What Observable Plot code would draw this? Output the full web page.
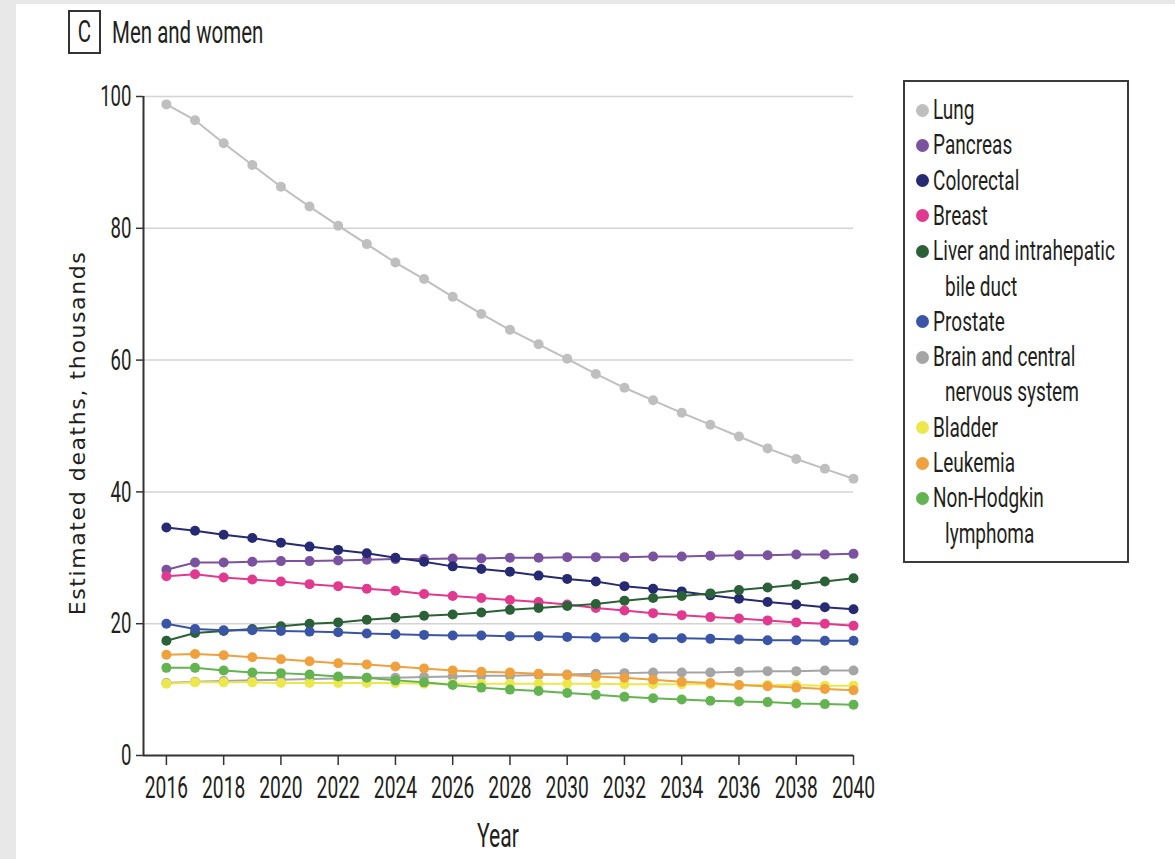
<!DOCTYPE html>
<html><head><meta charset="utf-8">
<script src="https://cdn.jsdelivr.net/npm/d3@7"></script>
<script src="https://cdn.jsdelivr.net/npm/@observablehq/plot@0.6"></script>
<style>
html,body{margin:0;padding:0;width:1175px;height:859px;overflow:hidden;background:#e8e8e8;}
#page{position:absolute;left:16px;top:4px;width:1159px;height:855px;background:#fff;}
#chart{position:absolute;left:0;top:0;}
.narrow{font-family:"Roboto",sans-serif;color:#231f20;}
#cbox{position:absolute;left:68px;top:10px;width:29px;height:40px;border:2px solid #333;}
#cbox span{position:absolute;left:0;width:29px;top:4px;font-size:31px;line-height:31px;text-align:center;transform:scaleX(0.66);}
#title{position:absolute;left:112px;top:16px;font-size:32px;line-height:32px;white-space:nowrap;transform:scaleX(0.64);transform-origin:0 50%;}
#ylab{position:absolute;left:77px;top:433px;transform:translate(-50%,-50%) rotate(-90deg);font-family:"DejaVu Sans",sans-serif;font-size:22px;letter-spacing:1.6px;color:#231f20;white-space:nowrap;}
#xlab{position:absolute;left:498px;top:818px;font-size:34px;line-height:34px;white-space:nowrap;transform:translateX(-50%) scaleX(0.62);}
#legend{position:absolute;left:903px;top:80px;width:222px;height:479px;border:2px solid #3a3a3a;}
.dot{position:absolute;left:11px;width:13px;height:13px;border-radius:50%;}
.ltxt{position:absolute;font-size:28px;line-height:28px;white-space:nowrap;transform:scaleX(0.68);transform-origin:0 50%;}
</style></head>
<body>
<div id="page"></div>
<div id="chart"></div>
<div id="cbox" class="narrow"><span>C</span></div>
<div id="title" class="narrow">Men and women</div>
<div id="ylab">Estimated deaths, thousands</div>
<div id="xlab" class="narrow">Year</div>
<div id="legend" class="narrow"></div>
<script>
const years = [2016,2017,2018,2019,2020,2021,2022,2023,2024,2025,2026,2027,2028,2029,2030,2031,2032,2033,2034,2035,2036,2037,2038,2039,2040];
const cancers = ["Lung","Pancreas","Colorectal","Breast","Liver and intrahepatic bile duct","Prostate","Brain and central nervous system","Bladder","Leukemia","Non-Hodgkin lymphoma"];
const legendLines = [["Lung"],["Pancreas"],["Colorectal"],["Breast"],["Liver and intrahepatic","bile duct"],["Prostate"],["Brain and central","nervous system"],["Bladder"],["Leukemia"],["Non-Hodgkin","lymphoma"]];
const colors = ["#bfbfbf","#7b52a0","#252a72","#e0398f","#2b6136","#3b55a6","#a5a5a5","#ece84c","#eea13d","#63b450"];

const lung       = [98.8,96.4,92.9,89.6,86.3,83.3,80.4,77.6,74.8,72.3,69.6,67.0,64.6,62.4,60.2,57.9,55.8,53.9,52.0,50.2,48.4,46.6,45.0,43.5,42.0];
const pancreas   = [28.2,29.3,29.3,29.4,29.5,29.5,29.6,29.7,29.8,29.8,29.9,29.9,30.0,30.0,30.1,30.1,30.1,30.2,30.2,30.3,30.4,30.4,30.5,30.5,30.6];
const colorectal = [34.6,34.1,33.5,33.0,32.3,31.7,31.2,30.7,30.0,29.4,28.7,28.3,27.9,27.3,26.8,26.4,25.7,25.3,24.9,24.3,23.8,23.3,22.9,22.5,22.2];
const breast     = [27.2,27.5,27.0,26.7,26.4,26.0,25.7,25.3,25.0,24.5,24.2,23.9,23.6,23.3,22.9,22.4,22.0,21.6,21.3,21.0,20.8,20.5,20.2,20.0,19.7];
const liver      = [17.4,18.6,18.9,19.2,19.6,20.0,20.2,20.6,20.9,21.2,21.4,21.7,22.1,22.4,22.7,23.0,23.5,23.9,24.2,24.6,25.1,25.5,25.9,26.4,26.9];
const prostate   = [20.0,19.2,19.0,19.0,18.9,18.8,18.7,18.5,18.4,18.3,18.2,18.2,18.1,18.1,18.0,17.9,17.9,17.8,17.8,17.7,17.6,17.5,17.5,17.4,17.4];
const brain      = [11.0,11.2,11.3,11.4,11.5,11.6,11.7,11.8,11.8,11.9,12.0,12.1,12.1,12.2,12.3,12.4,12.5,12.6,12.6,12.6,12.7,12.8,12.8,12.9,12.9];
const bladder    = [10.9,11.1,11.1,11.1,11.0,11.0,11.0,11.0,11.0,10.9,10.9,10.9,10.9,10.9,10.9,10.9,10.8,10.8,10.8,10.8,10.7,10.7,10.7,10.6,10.6];
const leukemia   = [15.3,15.4,15.2,14.9,14.6,14.3,14.0,13.8,13.5,13.2,12.9,12.7,12.6,12.4,12.2,12.0,11.8,11.5,11.2,11.0,10.7,10.5,10.3,10.1,9.9];
const nhl        = [13.3,13.3,12.9,12.6,12.5,12.3,12.0,11.8,11.4,11.1,10.7,10.3,10.0,9.8,9.5,9.2,8.9,8.7,8.5,8.3,8.2,8.1,7.9,7.8,7.7];

const series = [lung,pancreas,colorectal,breast,liver,prostate,brain,bladder,leukemia,nhl];
const xTicks = [2016,2018,2020,2022,2024,2026,2028,2030,2032,2034,2036,2038,2040];
const yTicks = [0,20,40,60,80,100];

const data = [];
series.forEach((vals, i) => vals.forEach((v, j) => data.push({cancer: cancers[i], year: years[j], value: v})));

const chart = Plot.plot({
  width: 900, height: 859,
  marginLeft: 143, marginRight: 47, marginTop: 96, marginBottom: 104,
  style: {fontFamily: "Roboto, sans-serif", color: "#231f20", background: "transparent", overflow: "visible"},
  x: {domain: [2015.2, 2040]},
  y: {domain: [0, 100]},
  color: {domain: cancers, range: colors},
  marks: [
    Plot.gridY(yTicks.filter(d => d > 0), {stroke: "#d4d4d4", strokeOpacity: 1, strokeWidth: 1.5}),
    Plot.axisX(xTicks, {tickSize: 10, tickPadding: 10, fontSize: 31, tickFormat: d => String(d), label: null, stroke: "#333", strokeWidth: 1.5}),
    Plot.axisY(yTicks, {tickSize: 7, tickPadding: 5, fontSize: 30, label: null, stroke: "#333", strokeWidth: 1.5}),
    Plot.ruleY([0], {stroke: "#333", strokeWidth: 2}),
    Plot.ruleX([2015.2], {y1: 0, y2: 100, stroke: "#333", strokeWidth: 2}),
    Plot.line(data, {x: "year", y: "value", z: "cancer", stroke: "cancer", strokeWidth: 2}),
    Plot.dot(data, {x: "year", y: "value", fill: "cancer", r: 5})
  ]
});
document.getElementById("chart").appendChild(chart);
// condense the axis tick labels horizontally (the reference uses a condensed face):
// wrap each label in a group that scales x about the label's anchor point (in the parent's space)
const k = 0.62;
d3.select(chart).selectAll("text").nodes().forEach(el => {
  const r = el.getBoundingClientRect();
  if (!(r.width > 0)) return;
  const anchor = getComputedStyle(el).textAnchor || "start";
  const sx = anchor === "middle" ? r.left + r.width / 2 : anchor === "end" ? r.right : r.left;
  const m = el.parentNode.getScreenCTM();
  const ax = (sx - m.e) / m.a;
  const g = document.createElementNS("http://www.w3.org/2000/svg", "g");
  g.setAttribute("transform", `matrix(${k},0,0,1,${(ax * (1 - k)).toFixed(2)},0)`);
  el.parentNode.insertBefore(g, el);
  g.appendChild(el);
});

const legend = document.getElementById("legend");
const rowTops = [0,1,2,3,4,6,7,9,10,11];
const pitch = 35.3;
legendLines.forEach((lines, i) => {
  const cy = 28 + rowTops[i] * pitch;
  const dot = document.createElement("div");
  dot.className = "dot";
  dot.style.top = (cy - 6.5) + "px";
  dot.style.background = colors[i];
  legend.appendChild(dot);
  lines.forEach((line, j) => {
    const s = document.createElement("div");
    s.className = "ltxt";
    s.style.left = (j === 0 ? 28 : 40) + "px";
    s.style.top = (cy + j * pitch - 14) + "px";
    s.textContent = line;
    legend.appendChild(s);
  });
});
</script>
</body></html>
